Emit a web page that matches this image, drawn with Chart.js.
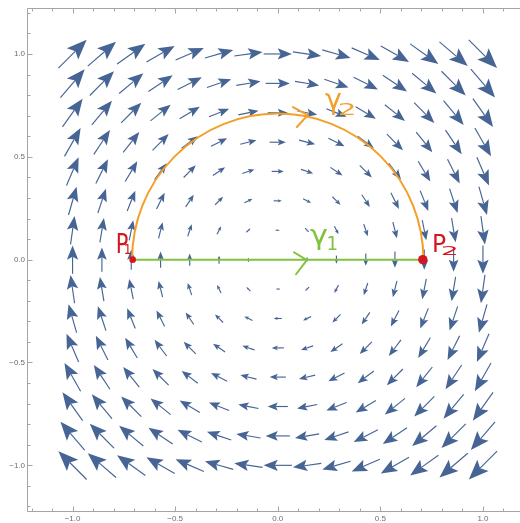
<!DOCTYPE html>
<html>
<head>
<meta charset="utf-8">
<script src="https://cdn.jsdelivr.net/npm/chart.js@4.4.1/dist/chart.umd.min.js"></script>
<style>
  html, body { margin:0; padding:0; background:#fff; width:520px; height:523px; overflow:hidden; }
  canvas { display:block; }
</style>
</head>
<body>
<canvas id="c" width="536" height="523"></canvas>
<script>
// ---- data ----
// arrow grid positions (columns left→right, rows top→bottom)
const gridX = [-1, -0.857, -0.714, -0.571, -0.429, -0.286, -0.143, 0, 0.143, 0.286, 0.429, 0.571, 0.714, 0.857, 1];
const gridY = [1, 0.857, 0.714, 0.571, 0.429, 0.286, 0.143, 0, -0.143, -0.286, -0.429, -0.571, -0.714, -0.857, -1];
// horizontal component of each arrow, per row (top→bottom)
const rowU = [1, 0.857, 0.714, 0.571, 0.429, 0.286, 0.143, 0, -0.143, -0.286, -0.429, -0.571, -0.714, -0.857, -1];
// vertical component of each arrow, per column (left→right)
const colV = [1, 0.857, 0.714, 0.571, 0.429, 0.286, 0.143, 0, -0.143, -0.286, -0.429, -0.571, -0.714, -0.857, -1];
// path γ1 (straight) between P1 and P2, and path γ2 (half circle)
const gamma1Pts = [{x:-0.707, y:0}, {x:0.707, y:0}];
const endPts = [{x:-0.707, y:0}, {x:0.707, y:0}];
const arcCenter = {x:0, y:0};
const arcRadius = 0.71;
// axis ticks
const minorTicks = [-1.2,-1.1,-1.0,-0.9,-0.8,-0.7,-0.6,-0.5,-0.4,-0.3,-0.2,-0.1,0,0.1,0.2,0.3,0.4,0.5,0.6,0.7,0.8,0.9,1.0,1.1,1.2];
const majorTicks = [-1.0, -0.5, 0, 0.5, 1.0];
const tickLabels = ['\u22121.0', '\u22120.5', '0.0', '0.5', '1.0'];
const AXIS_MIN = -1.222, AXIS_MAX = 1.222;

// ---- styles ----
const ARROW_COLOR = 'rgb(70,100,148)';
const GREEN = 'rgb(128,194,62)';
const ORANGE = 'rgb(243,160,42)';
const RED = 'rgb(214,22,30)';
const FRAME = 'rgb(165,165,165)';
const ARROW_SCALE = 0.1377; // data units of arrow length per unit of field magnitude
const HEAD_LEN = 0.5, HEAD_W = 0.2, NOTCH = 0.8;

function labelFor(v){
  for (let i=0;i<majorTicks.length;i++) if (Math.abs(v-majorTicks[i])<1e-6) return tickLabels[i];
  return '';
}

function drawArrow(ctx, x0, y0, x1, y1){
  const dx=x1-x0, dy=y1-y0, L=Math.hypot(dx,dy);
  if (L < 0.3) return;
  const ux=dx/L, uy=dy/L, px=-uy, py=ux;
  const h=HEAD_LEN*L, w=HEAD_W*L;
  const bx=x1-ux*h, by=y1-uy*h;
  const nx=x1-ux*h*NOTCH, ny=y1-uy*h*NOTCH;
  ctx.beginPath(); ctx.moveTo(x0,y0); ctx.lineTo(nx,ny); ctx.stroke();
  ctx.beginPath();
  ctx.moveTo(x1,y1);
  ctx.lineTo(bx+px*w, by+py*w);
  ctx.lineTo(nx,ny);
  ctx.lineTo(bx-px*w, by-py*w);
  ctx.closePath(); ctx.fill();
}

// annotation placement (data coordinates)
const notes = [
  {t:'P', c:RED,    box:[-0.782, 0.129, -0.731, 0.032]},
  {t:'1', c:RED,    box:[-0.744, 0.080, -0.717, 0.027]},
  {t:'P', c:RED,    box:[0.760, 0.124, 0.817, 0.036]},
  {t:'2', c:RED,    box:[0.801, 0.071, 0.870, 0.022]},
  {t:'\u03b3', c:GREEN, box:[0.157, 0.144, 0.242, 0.046]},
  {t:'1', c:GREEN,  box:[0.246, 0.119, 0.286, 0.046]},
  {t:'\u03b3', c:ORANGE, box:[0.230, 0.810, 0.310, 0.703]},
  {t:'2', c:ORANGE, box:[0.300, 0.762, 0.372, 0.703]}
];
const chevrons = [
  {c:GREEN,  pts:[[0.079,0.036],[0.142,-0.002],[0.089,-0.071]]},
  {c:ORANGE, pts:[[0.074,0.742],[0.147,0.703],[0.093,0.645]]}
];

const fieldPlugin = {
  id:'field',
  beforeDatasetsDraw(chart){
    const ctx=chart.ctx, sx=chart.scales.x, sy=chart.scales.y;
    ctx.save();
    ctx.strokeStyle=ARROW_COLOR; ctx.fillStyle=ARROW_COLOR; ctx.lineWidth=1.15; ctx.lineCap='butt';
    for (let j=0;j<gridY.length;j++){
      for (let i=0;i<gridX.length;i++){
        const u=rowU[j], v=colV[i];
        const hx=0.5*ARROW_SCALE*u, hy=0.5*ARROW_SCALE*v;
        drawArrow(ctx,
          sx.getPixelForValue(gridX[i]-hx), sy.getPixelForValue(gridY[j]-hy),
          sx.getPixelForValue(gridX[i]+hx), sy.getPixelForValue(gridY[j]+hy));
      }
    }
    // half circle γ2
    const cx=sx.getPixelForValue(arcCenter.x), cy=sy.getPixelForValue(arcCenter.y);
    const rx=sx.getPixelForValue(arcCenter.x+arcRadius)-cx, ry=cy-sy.getPixelForValue(arcCenter.y+arcRadius);
    ctx.strokeStyle=ORANGE; ctx.lineWidth=2;
    ctx.beginPath(); ctx.ellipse(cx,cy,rx,ry,0,Math.PI,2*Math.PI,false); ctx.stroke();
    ctx.restore();
  },
  afterDatasetsDraw(chart){
    const ctx=chart.ctx, sx=chart.scales.x, sy=chart.scales.y;
    ctx.save();
    // chevrons
    ctx.lineWidth=2; ctx.lineCap='round'; ctx.lineJoin='round';
    chevrons.forEach(ch=>{
      ctx.strokeStyle=ch.c; ctx.beginPath();
      ch.pts.forEach((p,k)=>{ const X=sx.getPixelForValue(p[0]), Y=sy.getPixelForValue(p[1]); k?ctx.lineTo(X,Y):ctx.moveTo(X,Y); });
      ctx.stroke();
    });
    // handwritten labels, fitted to their boxes
    ctx.font='40px "DejaVu Sans"';
    ctx.textBaseline='alphabetic'; ctx.textAlign='left';
    notes.forEach(n=>{
      const x0=sx.getPixelForValue(n.box[0]), y0=sy.getPixelForValue(n.box[1]);
      const x1=sx.getPixelForValue(n.box[2]), y1=sy.getPixelForValue(n.box[3]);
      const m=ctx.measureText(n.t);
      const gw=m.actualBoundingBoxLeft+m.actualBoundingBoxRight;
      const gh=m.actualBoundingBoxAscent+m.actualBoundingBoxDescent;
      const kx=(x1-x0)/gw, ky=(y1-y0)/gh;
      ctx.save();
      ctx.translate(x0, y0);
      ctx.scale(kx, ky);
      ctx.fillStyle=n.c;
      ctx.fillText(n.t, m.actualBoundingBoxLeft, m.actualBoundingBoxAscent);
      ctx.restore();
    });
    // frame (left, top, bottom — the right side falls outside the picture) and inward ticks
    const L=Math.round(sx.getPixelForValue(AXIS_MIN))+0.5, R=Math.round(sx.getPixelForValue(AXIS_MAX))+0.5;
    const T=Math.round(sy.getPixelForValue(AXIS_MAX))+0.5, B=Math.round(sy.getPixelForValue(AXIS_MIN))+0.5;
    ctx.strokeStyle=FRAME; ctx.lineWidth=1; ctx.lineCap='butt';
    ctx.beginPath();
    ctx.moveTo(R,T); ctx.lineTo(L,T); ctx.lineTo(L,B); ctx.lineTo(R,B);
    minorTicks.forEach(v=>{
      const len = labelFor(v)!=='' ? 5 : 3;
      const X=Math.round(sx.getPixelForValue(v))+0.5;
      ctx.moveTo(X,B); ctx.lineTo(X,B-len);
      ctx.moveTo(X,T); ctx.lineTo(X,T+len);
      const Y=Math.round(sy.getPixelForValue(v))+0.5;
      ctx.moveTo(L,Y); ctx.lineTo(L+len,Y);
    });
    ctx.stroke();
    ctx.restore();
  }
};

const tickFont = {family:'"Liberation Sans", Arial, sans-serif', size:8};
const TICKCOL = 'rgb(110,110,110)';

new Chart(document.getElementById('c'), {
  type:'scatter',
  data:{ datasets:[
    {label:'\u03b31', data:gamma1Pts, showLine:true, borderColor:GREEN, borderWidth:2, pointRadius:0, order:2},
    {label:'P', data:endPts, pointRadius:[3.3,4.7], pointBackgroundColor:RED, pointBorderWidth:0, backgroundColor:RED, order:1}
  ]},
  options:{
    responsive:false, animation:false, devicePixelRatio:1,
    layout:{padding:{top:8.3, right:7.5, left:0, bottom:0}},
    plugins:{legend:{display:false}, tooltip:{enabled:false}},
    events:[],
    scales:{
      x:{type:'linear', min:AXIS_MIN, max:AXIS_MAX,
         afterBuildTicks:s=>{ s.ticks = minorTicks.map(v=>({value:v})); },
         afterFit:s=>{ s.height=12; s.paddingLeft=0; s.paddingRight=0; },
         ticks:{autoSkip:false, maxRotation:0, minRotation:0, padding:3, font:tickFont, color:TICKCOL, callback:v=>labelFor(v)},
         grid:{display:false, drawTicks:false}, border:{display:false}},
      y:{type:'linear', min:AXIS_MIN, max:AXIS_MAX,
         afterBuildTicks:s=>{ s.ticks = minorTicks.map(v=>({value:v})); },
         afterFit:s=>{ s.width=27; s.paddingTop=0; s.paddingBottom=0; },
         ticks:{autoSkip:false, padding:2, font:tickFont, color:TICKCOL, callback:v=>labelFor(v)},
         grid:{display:false, drawTicks:false}, border:{display:false}}
    }
  },
  plugins:[fieldPlugin]
});
</script>
</body>
</html>
